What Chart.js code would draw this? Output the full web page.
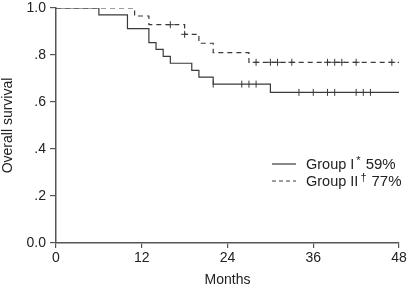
<!DOCTYPE html>
<html>
<head>
<meta charset="utf-8">
<script src="https://cdn.jsdelivr.net/npm/chart.js@4/dist/chart.umd.min.js"></script>
<style>
  html, body { margin: 0; padding: 0; background: #fff; }
  #wrap { width: 410px; height: 289px; }
</style>
</head>
<body>
<div id="wrap"><canvas id="km" width="410" height="289"></canvas></div>
<script>
// Kaplan-Meier steps (months, survival after the drop)
const group1Times = [0, 6, 10, 13, 14, 15, 16, 19, 20, 22, 30, 48];
const group1Surv = [1.0, 0.971, 0.912, 0.853, 0.824, 0.794, 0.765, 0.735, 0.706, 0.676, 0.641, 0.641];
const group1Censored = [22, 26, 27, 28, 34, 36, 38, 39, 42, 43, 44];

const group2Times = [0, 11, 13, 18, 20, 22, 27, 48];
const group2Surv = [1.0, 0.966, 0.929, 0.888, 0.85, 0.81, 0.769, 0.769];
const group2Censored = [16, 18, 28, 30, 31, 33, 38, 39, 40, 42, 47];

const xTicks = [0, 12, 24, 36, 48];
const yTickLabels = ["0.0", ".2", ".4", ".6", ".8", "1.0"];

const legendMain = ["Group I", "Group II"];
const legendSup = ["*", "\u2020"];
const legendRate = ["59%", "77%"];

const FONT = "'Liberation Sans', Arial, sans-serif";
const INK = "#3a3a3a";

// survival level at time t (step function)
function survAt(times, surv, t) {
  let s = surv[0];
  for (let i = 0; i < times.length; i++) {
    if (times[i] <= t) s = surv[i];
  }
  return s;
}

const toPts = (xs, ys) => xs.map((x, i) => ({ x: x, y: ys[i] }));
const censorPts = (cs, times, surv) => cs.map(t => ({ x: t, y: survAt(times, surv, t) }));

const legendPlugin = {
  id: "kmLegend",
  afterDraw(chart) {
    const ctx = chart.ctx;
    ctx.save();
    const rows = [164, 181];
    for (let i = 0; i < 2; i++) {
      const y = rows[i];
      ctx.strokeStyle = INK;
      ctx.lineWidth = 1.2;
      ctx.setLineDash(i === 0 ? [] : [4, 3]);
      ctx.beginPath();
      ctx.moveTo(272, y);
      ctx.lineTo(296, y);
      ctx.stroke();
      ctx.setLineDash([]);

      ctx.fillStyle = "#222";
      ctx.textBaseline = "alphabetic";
      ctx.font = "14.5px " + FONT;
      let x = 306;
      ctx.fillText(legendMain[i], x, y + 4.5);
      x += ctx.measureText(legendMain[i]).width + 2;
      ctx.font = "11px " + FONT;
      ctx.fillText(legendSup[i], x, y - 0.5);
      x += ctx.measureText(legendSup[i]).width + 5;
      ctx.font = "15px " + FONT;
      ctx.fillText(legendRate[i], x, y + 4.5);
    }
    ctx.restore();
  }
};

new Chart(document.getElementById("km").getContext("2d"), {
  type: "line",
  data: {
    datasets: [
      {
        label: "Group I",
        data: toPts(group1Times, group1Surv),
        stepped: "before",
        borderColor: INK,
        borderWidth: 1.2,
        pointRadius: 0,
        fill: false,
      },
      {
        label: "Group II",
        data: toPts(group2Times, group2Surv),
        stepped: "before",
        borderColor: INK,
        borderWidth: 1.2,
        borderDash: [5, 4],
        pointRadius: 0,
        fill: false,
      },
      {
        label: "Group I censored",
        data: censorPts(group1Censored, group1Times, group1Surv),
        showLine: false,
        pointStyle: "line",
        rotation: 90,
        pointRadius: 3.5,
        borderColor: INK,
        pointBorderWidth: 1,
      },
      {
        label: "Group II censored",
        data: censorPts(group2Censored, group2Times, group2Surv),
        showLine: false,
        pointStyle: "cross",
        pointRadius: 3.5,
        borderColor: INK,
        pointBorderWidth: 1,
      },
    ],
  },
  options: {
    responsive: false,
    animation: false,
    layout: { padding: { top: 8, right: 11, left: 0, bottom: 0 } },
    plugins: {
      legend: { display: false },
      tooltip: { enabled: false },
    },
    scales: {
      x: {
        type: "linear",
        min: 0,
        max: 48,
        afterBuildTicks: (s) => { s.ticks = xTicks.map(v => ({ value: v })); },
        ticks: { color: "#222", font: { family: FONT, size: 14 }, padding: 2, maxRotation: 0 },
        grid: { drawOnChartArea: false, drawTicks: true, tickLength: 5, color: "#555", lineWidth: 1.2 },
        border: { color: "#555", width: 1.5 },
        title: { display: true, text: "Months", color: "#222", font: { family: FONT, size: 14 }, padding: { top: 0, bottom: 0 } },
        afterFit: (s) => { s.height = 46; s.paddingLeft = 0; s.paddingRight = 0; },
      },
      y: {
        type: "linear",
        min: 0,
        max: 1,
        afterBuildTicks: (s) => { s.ticks = yTickLabels.map((_, i) => ({ value: i * 0.2 })); },
        ticks: {
          color: "#222",
          font: { family: FONT, size: 14 },
          padding: 4,
          callback: (v, i) => yTickLabels[i],
        },
        grid: { drawOnChartArea: false, drawTicks: true, tickLength: 6, color: "#555", lineWidth: 1.2 },
        border: { color: "#555", width: 1.5 },
        title: { display: true, text: "Overall survival", color: "#222", font: { family: FONT, size: 14 }, padding: { top: 0, bottom: 0 } },
        afterFit: (s) => { s.width = 56; s.paddingTop = 0; s.paddingBottom = 0; },
      },
    },
  },
  plugins: [legendPlugin],
});
</script>
</body>
</html>
